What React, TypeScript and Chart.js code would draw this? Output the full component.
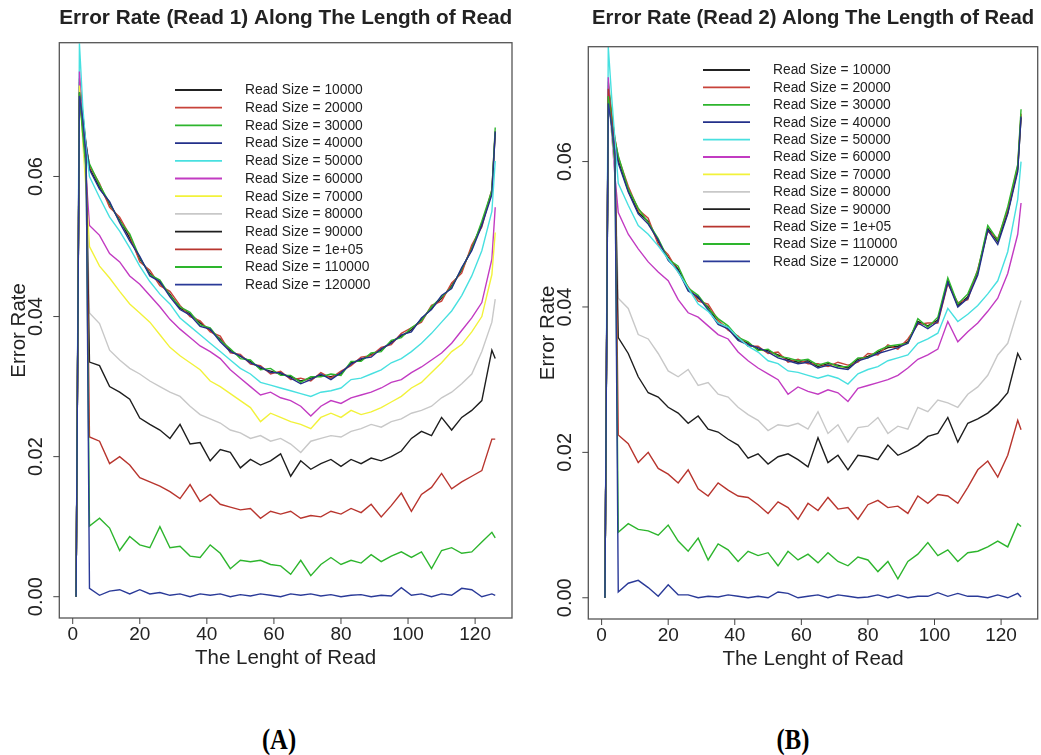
import React, { useEffect, useRef } from "react";
import { Chart, registerables } from "chart.js";

Chart.register(...registerables);

const POS = [1, 2, 3, 4, 5, 8, 11, 14, 17, 20, 23, 26, 29, 32, 35, 38, 41, 44, 47, 50, 53, 56, 59, 62, 65, 68, 71, 74, 77, 80, 83, 86, 89, 92, 95, 98, 101, 104, 107, 110, 113, 116, 119, 122, 125, 126];

const X_TICKS = [0, 20, 40, 60, 80, 100, 120];
const Y_TICKS = [0, 0.02, 0.04, 0.06];
const Y_TICK_LABELS = ["0.00", "0.02", "0.04", "0.06"];

const LEGEND_LABELS = [
  "Read Size = 10000", "Read Size = 20000", "Read Size = 30000", "Read Size = 40000",
  "Read Size = 50000", "Read Size = 60000", "Read Size = 70000", "Read Size = 80000",
  "Read Size = 90000", "Read Size = 1e+05", "Read Size = 110000", "Read Size = 120000",
];

const SERIES_COLORS = [
  "#222222", "#C8433A", "#2DB52D", "#23308A", "#48E0E0", "#C23BC2",
  "#F2F23A", "#C8C8C8", "#1E1E1E", "#B8352E", "#2DB52D", "#2A3A98",
];

// ---------- Read 1 ----------
const R1_10000 = [0, 0.0728, 0.0684, 0.0642, 0.0612, 0.0585, 0.0560, 0.0538, 0.0512, 0.0482, 0.0462, 0.0448, 0.0432, 0.0412, 0.0404, 0.0391, 0.0380, 0.0368, 0.0352, 0.0343, 0.0336, 0.0326, 0.0322, 0.0318, 0.0314, 0.0308, 0.0312, 0.0316, 0.0314, 0.0318, 0.0334, 0.0338, 0.0346, 0.0352, 0.0364, 0.0372, 0.0381, 0.0396, 0.0412, 0.0426, 0.0444, 0.0466, 0.0498, 0.0532, 0.0578, 0.0662];
const R1_20000 = [0, 0.0735, 0.0690, 0.0646, 0.0615, 0.0590, 0.0556, 0.0542, 0.0516, 0.0478, 0.0466, 0.0444, 0.0436, 0.0416, 0.0400, 0.0394, 0.0378, 0.0372, 0.0348, 0.0346, 0.0332, 0.0330, 0.0318, 0.0322, 0.0310, 0.0312, 0.0308, 0.0320, 0.0312, 0.0322, 0.0330, 0.0342, 0.0344, 0.0356, 0.0360, 0.0376, 0.0384, 0.0392, 0.0416, 0.0422, 0.0448, 0.0462, 0.0502, 0.0528, 0.0582, 0.0665];
const R1_30000 = [0, 0.0740, 0.0688, 0.0640, 0.0618, 0.0588, 0.0562, 0.0536, 0.0518, 0.0484, 0.0460, 0.0452, 0.0430, 0.0414, 0.0406, 0.0388, 0.0384, 0.0366, 0.0354, 0.0340, 0.0338, 0.0324, 0.0326, 0.0316, 0.0316, 0.0306, 0.0314, 0.0314, 0.0318, 0.0316, 0.0336, 0.0336, 0.0348, 0.0350, 0.0366, 0.0370, 0.0384, 0.0394, 0.0414, 0.0428, 0.0442, 0.0468, 0.0496, 0.0536, 0.0580, 0.0670];
const R1_40000 = [0, 0.0722, 0.0680, 0.0645, 0.0610, 0.0582, 0.0564, 0.0534, 0.0508, 0.0486, 0.0458, 0.0450, 0.0428, 0.0410, 0.0402, 0.0386, 0.0382, 0.0364, 0.0350, 0.0344, 0.0334, 0.0328, 0.0320, 0.0320, 0.0312, 0.0304, 0.0310, 0.0318, 0.0310, 0.0320, 0.0332, 0.0340, 0.0342, 0.0354, 0.0362, 0.0374, 0.0378, 0.0398, 0.0410, 0.0430, 0.0440, 0.0470, 0.0494, 0.0530, 0.0574, 0.0664];
const R1_50000 = [0, 0.0790, 0.0700, 0.0640, 0.0600, 0.0570, 0.0542, 0.0522, 0.0498, 0.0472, 0.0450, 0.0432, 0.0418, 0.0398, 0.0386, 0.0374, 0.0362, 0.0350, 0.0338, 0.0326, 0.0318, 0.0306, 0.0302, 0.0298, 0.0294, 0.0290, 0.0286, 0.0292, 0.0294, 0.0298, 0.0310, 0.0312, 0.0318, 0.0324, 0.0334, 0.0340, 0.0350, 0.0362, 0.0376, 0.0392, 0.0408, 0.0430, 0.0458, 0.0494, 0.0550, 0.0622];
const R1_60000 = [0, 0.0750, 0.0660, 0.0600, 0.0530, 0.0516, 0.0490, 0.0478, 0.0458, 0.0446, 0.0430, 0.0414, 0.0396, 0.0382, 0.0370, 0.0358, 0.0350, 0.0340, 0.0324, 0.0312, 0.0300, 0.0288, 0.0292, 0.0284, 0.0280, 0.0272, 0.0258, 0.0272, 0.0280, 0.0276, 0.0284, 0.0288, 0.0292, 0.0298, 0.0306, 0.0310, 0.0320, 0.0328, 0.0338, 0.0348, 0.0362, 0.0380, 0.0398, 0.0420, 0.0482, 0.0556];
const R1_70000 = [0, 0.0730, 0.0650, 0.0580, 0.0500, 0.0472, 0.0455, 0.0436, 0.0418, 0.0405, 0.0392, 0.0374, 0.0356, 0.0344, 0.0334, 0.0324, 0.0308, 0.0300, 0.0290, 0.0280, 0.0270, 0.0250, 0.0262, 0.0256, 0.0250, 0.0246, 0.0240, 0.0256, 0.0262, 0.0256, 0.0266, 0.0260, 0.0264, 0.0270, 0.0278, 0.0286, 0.0298, 0.0306, 0.0320, 0.0334, 0.0350, 0.0360, 0.0378, 0.0400, 0.0460, 0.0520];
const R1_80000 = [0, 0.0720, 0.0660, 0.0600, 0.0405, 0.0390, 0.0352, 0.0338, 0.0326, 0.0318, 0.0308, 0.0300, 0.0292, 0.0286, 0.0272, 0.0260, 0.0254, 0.0248, 0.0238, 0.0234, 0.0226, 0.0230, 0.0222, 0.0226, 0.0218, 0.0206, 0.0222, 0.0226, 0.0230, 0.0228, 0.0236, 0.0240, 0.0246, 0.0242, 0.0250, 0.0254, 0.0262, 0.0266, 0.0272, 0.0284, 0.0292, 0.0304, 0.0318, 0.0350, 0.0392, 0.0425];
const R1_90000 = [0, 0.0720, 0.0670, 0.0620, 0.0335, 0.0330, 0.0300, 0.0292, 0.0282, 0.0255, 0.0246, 0.0238, 0.0226, 0.0246, 0.0218, 0.0220, 0.0194, 0.0210, 0.0206, 0.0184, 0.0196, 0.0188, 0.0194, 0.0204, 0.0172, 0.0194, 0.0182, 0.0190, 0.0196, 0.0186, 0.0196, 0.0190, 0.0198, 0.0194, 0.0200, 0.0208, 0.0226, 0.0236, 0.0230, 0.0256, 0.0238, 0.0256, 0.0266, 0.0280, 0.0352, 0.0340];
const R1_100000 = [0, 0.0710, 0.0670, 0.0620, 0.0228, 0.0222, 0.0190, 0.0200, 0.0188, 0.0170, 0.0164, 0.0158, 0.0150, 0.0140, 0.0160, 0.0136, 0.0146, 0.0132, 0.0128, 0.0124, 0.0126, 0.0112, 0.0122, 0.0118, 0.0122, 0.0112, 0.0116, 0.0114, 0.0122, 0.0118, 0.0126, 0.0120, 0.0132, 0.0114, 0.0130, 0.0148, 0.0122, 0.0146, 0.0156, 0.0176, 0.0154, 0.0164, 0.0172, 0.0180, 0.0225, 0.0225];
const R1_110000 = [0, 0.0720, 0.0660, 0.0610, 0.0101, 0.0112, 0.0098, 0.0066, 0.0086, 0.0074, 0.0070, 0.0100, 0.0070, 0.0072, 0.0058, 0.0056, 0.0074, 0.0062, 0.0040, 0.0052, 0.0050, 0.0052, 0.0046, 0.0044, 0.0032, 0.0052, 0.0030, 0.0046, 0.0056, 0.0046, 0.0052, 0.0048, 0.0060, 0.0050, 0.0058, 0.0064, 0.0056, 0.0064, 0.0040, 0.0066, 0.0070, 0.0062, 0.0064, 0.0078, 0.0092, 0.0084];
const R1_120000 = [0, 0.0715, 0.0680, 0.0630, 0.0012, 0.0002, 0.0008, 0.0010, 0.0004, 0.0010, 0.0004, 0.0006, 0.0002, 0.0004, 0.0000, 0.0004, 0.0002, 0.0004, 0.0000, 0.0003, 0.0001, 0.0004, 0.0002, 0.0000, 0.0004, 0.0002, 0.0004, 0.0001, 0.0003, 0.0000, 0.0002, 0.0003, 0.0000, 0.0002, 0.0001, 0.0013, 0.0002, 0.0004, 0.0000, 0.0004, 0.0002, 0.0012, 0.0010, 0.0000, 0.0004, 0.0002];

// ---------- Read 2 ----------
const R2_10000 = [0, 0.0700, 0.0660, 0.0628, 0.0602, 0.0560, 0.0530, 0.0518, 0.0490, 0.0468, 0.0452, 0.0424, 0.0412, 0.0400, 0.0378, 0.0372, 0.0356, 0.0350, 0.0342, 0.0340, 0.0334, 0.0328, 0.0324, 0.0326, 0.0318, 0.0322, 0.0320, 0.0316, 0.0328, 0.0332, 0.0338, 0.0344, 0.0346, 0.0352, 0.0380, 0.0374, 0.0382, 0.0436, 0.0402, 0.0414, 0.0448, 0.0508, 0.0490, 0.0530, 0.0590, 0.0660];
const R2_20000 = [0, 0.0705, 0.0664, 0.0632, 0.0606, 0.0566, 0.0534, 0.0522, 0.0486, 0.0472, 0.0448, 0.0428, 0.0408, 0.0404, 0.0382, 0.0368, 0.0360, 0.0346, 0.0346, 0.0336, 0.0338, 0.0324, 0.0328, 0.0322, 0.0322, 0.0318, 0.0324, 0.0320, 0.0324, 0.0336, 0.0334, 0.0348, 0.0342, 0.0356, 0.0376, 0.0378, 0.0378, 0.0432, 0.0406, 0.0410, 0.0452, 0.0504, 0.0494, 0.0534, 0.0594, 0.0666];
const R2_30000 = [0, 0.0710, 0.0668, 0.0630, 0.0608, 0.0562, 0.0536, 0.0516, 0.0494, 0.0466, 0.0456, 0.0426, 0.0416, 0.0398, 0.0384, 0.0374, 0.0358, 0.0352, 0.0340, 0.0342, 0.0332, 0.0330, 0.0326, 0.0328, 0.0320, 0.0324, 0.0318, 0.0318, 0.0330, 0.0330, 0.0340, 0.0346, 0.0348, 0.0350, 0.0384, 0.0372, 0.0386, 0.0440, 0.0404, 0.0418, 0.0450, 0.0512, 0.0492, 0.0538, 0.0596, 0.0672];
const R2_40000 = [0, 0.0695, 0.0656, 0.0625, 0.0598, 0.0558, 0.0528, 0.0514, 0.0492, 0.0464, 0.0450, 0.0422, 0.0414, 0.0396, 0.0376, 0.0370, 0.0354, 0.0348, 0.0344, 0.0338, 0.0330, 0.0326, 0.0322, 0.0324, 0.0316, 0.0320, 0.0316, 0.0314, 0.0326, 0.0330, 0.0336, 0.0340, 0.0344, 0.0350, 0.0378, 0.0370, 0.0380, 0.0434, 0.0400, 0.0412, 0.0444, 0.0506, 0.0486, 0.0528, 0.0586, 0.0662];
const R2_50000 = [0, 0.0758, 0.0690, 0.0630, 0.0570, 0.0540, 0.0512, 0.0500, 0.0484, 0.0466, 0.0448, 0.0426, 0.0404, 0.0394, 0.0378, 0.0372, 0.0358, 0.0346, 0.0338, 0.0326, 0.0322, 0.0312, 0.0310, 0.0306, 0.0302, 0.0306, 0.0302, 0.0294, 0.0308, 0.0314, 0.0318, 0.0326, 0.0330, 0.0334, 0.0350, 0.0356, 0.0364, 0.0398, 0.0380, 0.0390, 0.0402, 0.0418, 0.0436, 0.0476, 0.0548, 0.0600];
const R2_60000 = [0, 0.0716, 0.0640, 0.0580, 0.0530, 0.0500, 0.0480, 0.0462, 0.0448, 0.0436, 0.0410, 0.0392, 0.0386, 0.0374, 0.0362, 0.0356, 0.0338, 0.0326, 0.0316, 0.0308, 0.0300, 0.0280, 0.0290, 0.0284, 0.0280, 0.0286, 0.0282, 0.0270, 0.0288, 0.0292, 0.0296, 0.0300, 0.0306, 0.0316, 0.0328, 0.0334, 0.0342, 0.0380, 0.0352, 0.0366, 0.0378, 0.0394, 0.0412, 0.0446, 0.0500, 0.0543];
const R2_70000 = [0, 0.0700, 0.0662, 0.0628, 0.0600, 0.0562, 0.0532, 0.0516, 0.0490, 0.0468, 0.0452, 0.0426, 0.0412, 0.0400, 0.0380, 0.0372, 0.0356, 0.0350, 0.0342, 0.0338, 0.0334, 0.0328, 0.0324, 0.0324, 0.0318, 0.0322, 0.0318, 0.0316, 0.0328, 0.0332, 0.0338, 0.0344, 0.0346, 0.0352, 0.0380, 0.0374, 0.0382, 0.0436, 0.0402, 0.0414, 0.0448, 0.0508, 0.0490, 0.0530, 0.0590, 0.0664];
const R2_80000 = [0, 0.0690, 0.0640, 0.0590, 0.0412, 0.0398, 0.0362, 0.0356, 0.0336, 0.0312, 0.0304, 0.0314, 0.0292, 0.0296, 0.0280, 0.0276, 0.0262, 0.0252, 0.0244, 0.0230, 0.0238, 0.0236, 0.0240, 0.0232, 0.0256, 0.0226, 0.0238, 0.0214, 0.0234, 0.0236, 0.0248, 0.0226, 0.0236, 0.0232, 0.0262, 0.0256, 0.0272, 0.0268, 0.0262, 0.0280, 0.0290, 0.0306, 0.0334, 0.0350, 0.0395, 0.0409];
const R2_90000 = [0, 0.0690, 0.0650, 0.0600, 0.0358, 0.0336, 0.0304, 0.0282, 0.0276, 0.0262, 0.0254, 0.0240, 0.0250, 0.0232, 0.0228, 0.0218, 0.0210, 0.0192, 0.0198, 0.0184, 0.0194, 0.0198, 0.0190, 0.0180, 0.0220, 0.0186, 0.0196, 0.0176, 0.0196, 0.0194, 0.0190, 0.0210, 0.0196, 0.0202, 0.0210, 0.0222, 0.0226, 0.0248, 0.0214, 0.0240, 0.0246, 0.0254, 0.0266, 0.0282, 0.0336, 0.0327];
const R2_100000 = [0, 0.0700, 0.0660, 0.0610, 0.0224, 0.0212, 0.0186, 0.0200, 0.0178, 0.0170, 0.0158, 0.0176, 0.0150, 0.0140, 0.0158, 0.0148, 0.0140, 0.0138, 0.0128, 0.0116, 0.0132, 0.0124, 0.0108, 0.0130, 0.0120, 0.0138, 0.0122, 0.0124, 0.0108, 0.0128, 0.0134, 0.0124, 0.0126, 0.0116, 0.0140, 0.0130, 0.0142, 0.0140, 0.0130, 0.0152, 0.0176, 0.0188, 0.0166, 0.0196, 0.0244, 0.0231];
const R2_110000 = [0, 0.0690, 0.0650, 0.0600, 0.0090, 0.0102, 0.0094, 0.0092, 0.0086, 0.0100, 0.0078, 0.0064, 0.0082, 0.0052, 0.0074, 0.0066, 0.0050, 0.0064, 0.0058, 0.0062, 0.0044, 0.0064, 0.0052, 0.0060, 0.0048, 0.0062, 0.0050, 0.0044, 0.0056, 0.0052, 0.0036, 0.0050, 0.0026, 0.0050, 0.0060, 0.0076, 0.0058, 0.0066, 0.0050, 0.0062, 0.0064, 0.0070, 0.0078, 0.0070, 0.0102, 0.0098];
const R2_120000 = [0, 0.0680, 0.0650, 0.0610, 0.0008, 0.0020, 0.0024, 0.0014, 0.0002, 0.0018, 0.0004, 0.0004, 0.0000, 0.0002, 0.0001, 0.0004, 0.0002, 0.0000, 0.0002, 0.0000, 0.0008, 0.0006, 0.0000, 0.0002, 0.0004, 0.0000, 0.0004, 0.0002, 0.0000, 0.0001, 0.0004, 0.0000, 0.0004, 0.0000, 0.0002, 0.0002, 0.0007, 0.0002, 0.0006, 0.0002, 0.0002, 0.0000, 0.0004, 0.0000, 0.0006, 0.0001];

const READ1 = [R1_10000, R1_20000, R1_30000, R1_40000, R1_50000, R1_60000, R1_70000, R1_80000, R1_90000, R1_100000, R1_110000, R1_120000];
const READ2 = [R2_10000, R2_20000, R2_30000, R2_40000, R2_50000, R2_60000, R2_70000, R2_80000, R2_90000, R2_100000, R2_110000, R2_120000];

type PanelCfg = {
  title: string;
  series: number[][];
  left: number;
  width: number;
  yMin: number;
  yMax: number;
  padding: { left: number; top: number; right: number; bottom: number };
  titleWidth: number;
  legend: { x0: number; x1: number; tx: number; y0: number; dy: number };
  hiddenUnder?: number;
};

const PANELS: PanelCfg[] = [
  {
    title: "Error Rate (Read 1) Along The Length of Read",
    series: READ1,
    left: 0,
    width: 520,
    yMin: -0.00304,
    yMax: 0.0791,
    padding: { left: 59.3, top: 42.7, right: 8, bottom: 62 },
    titleWidth: 453,
    legend: { x0: 175, x1: 222, tx: 245, y0: 90, dy: 17.7 },
  },
  {
    title: "Error Rate (Read 2) Along The Length of Read",
    series: READ2,
    left: 520,
    width: 521,
    yMin: -0.00292,
    yMax: 0.0758,
    padding: { left: 68.3, top: 46.7, right: 3.3, bottom: 61 },
    titleWidth: 442,
    legend: { x0: 183, x1: 230, tx: 253, y0: 70, dy: 17.4 },
    hiddenUnder: 6,
  },
];

const SANS = '"Liberation Sans", Arial, Helvetica, sans-serif';

function decorPlugin(cfg: PanelCfg) {
  return {
    id: "rstyle",
    afterDraw(chart: any) {
      const ctx: CanvasRenderingContext2D = chart.ctx;
      const { left, right, top, bottom } = chart.chartArea;
      const xs = chart.scales.x;
      const ys = chart.scales.y;
      ctx.save();
      ctx.strokeStyle = "#555";
      ctx.lineWidth = 1.3;
      ctx.strokeRect(left, top, right - left, bottom - top);

      ctx.fillStyle = "#222";
      ctx.strokeStyle = "#444";
      ctx.lineWidth = 1;
      ctx.textAlign = "center";
      ctx.textBaseline = "middle";
      ctx.font = `19px ${SANS}`;
      X_TICKS.forEach((v) => {
        const px = xs.getPixelForValue(v);
        ctx.beginPath();
        ctx.moveTo(px, bottom);
        ctx.lineTo(px, bottom + 6);
        ctx.stroke();
        ctx.fillText(String(v), px, bottom + 17);
      });
      ctx.font = `20px ${SANS}`;
      Y_TICKS.forEach((v, i) => {
        const py = ys.getPixelForValue(v);
        ctx.beginPath();
        ctx.moveTo(left, py);
        ctx.lineTo(left - 6, py);
        ctx.stroke();
        ctx.save();
        ctx.translate(left - 22.5, py);
        ctx.rotate(-Math.PI / 2);
        ctx.fillText(Y_TICK_LABELS[i], 0, 0);
        ctx.restore();
      });

      ctx.font = `20.5px ${SANS}`;
      ctx.fillText("The Lenght of Read", (left + right) / 2, bottom + 40);
      ctx.save();
      ctx.translate(left - 40, (top + bottom) / 2);
      ctx.rotate(-Math.PI / 2);
      ctx.fillText("Error Rate", 0, 0);
      ctx.restore();

      ctx.font = `bold 20px ${SANS}`;
      const w = ctx.measureText(cfg.title).width;
      ctx.save();
      ctx.translate((left + right) / 2, 18);
      ctx.scale(cfg.titleWidth / w, 1);
      ctx.fillText(cfg.title, 0, 0);
      ctx.restore();

      const lg = cfg.legend;
      ctx.font = `13.8px ${SANS}`;
      ctx.textAlign = "left";
      chart.data.datasets.forEach((ds: any, i: number) => {
        const y = lg.y0 + i * lg.dy;
        ctx.strokeStyle = ds.borderColor;
        ctx.lineWidth = 1.8;
        ctx.beginPath();
        ctx.moveTo(lg.x0, y);
        ctx.lineTo(lg.x1, y);
        ctx.stroke();
        ctx.fillStyle = "#222";
        ctx.fillText(ds.label, lg.tx, y + 0.5);
      });
      ctx.restore();
    },
  };
}

function Panel({ cfg }: { cfg: PanelCfg }) {
  const ref = useRef<HTMLCanvasElement>(null);
  useEffect(() => {
    if (!ref.current) return;
    const datasets = cfg.series.map((vals, i) => ({
      label: LEGEND_LABELS[i],
      data: POS.map((x, j) => ({ x, y: vals[j] })),
      borderColor: SERIES_COLORS[i],
      backgroundColor: SERIES_COLORS[i],
      borderWidth: 1.4,
      pointRadius: 0,
      tension: 0,
      fill: false,
      order: cfg.hiddenUnder === i ? 100 : 20 - i,
    }));
    const chart = new Chart(ref.current, {
      type: "line",
      data: { datasets },
      options: {
        animation: false,
        responsive: false,
        events: [],
        layout: { padding: cfg.padding },
        plugins: { legend: { display: false }, title: { display: false }, tooltip: { enabled: false } },
        scales: {
          x: { type: "linear", min: -4, max: 131, display: false },
          y: { type: "linear", min: cfg.yMin, max: cfg.yMax, display: false },
        },
      },
      plugins: [decorPlugin(cfg)],
    } as any);
    return () => chart.destroy();
  }, [cfg]);
  return (
    <canvas
      ref={ref}
      width={cfg.width}
      height={680}
      style={{ position: "absolute", left: cfg.left, top: 0, width: cfg.width, height: 680 }}
    />
  );
}

const labelStyle: React.CSSProperties = {
  position: "absolute",
  top: 724,
  transform: "translateX(-50%) scaleX(0.82)",
  font: 'bold 30px "Liberation Serif", "Times New Roman", serif',
  lineHeight: "30px",
  color: "#000",
};

export default function App() {
  return (
    <div style={{ position: "absolute", left: 0, top: 0, width: 1041, height: 755, background: "#fff", overflow: "hidden" }}>
      {PANELS.map((p, i) => (
        <Panel key={i} cfg={p} />
      ))}
      <div style={{ ...labelStyle, left: 279 }}>(A)</div>
      <div style={{ ...labelStyle, left: 793 }}>(B)</div>
    </div>
  );
}
